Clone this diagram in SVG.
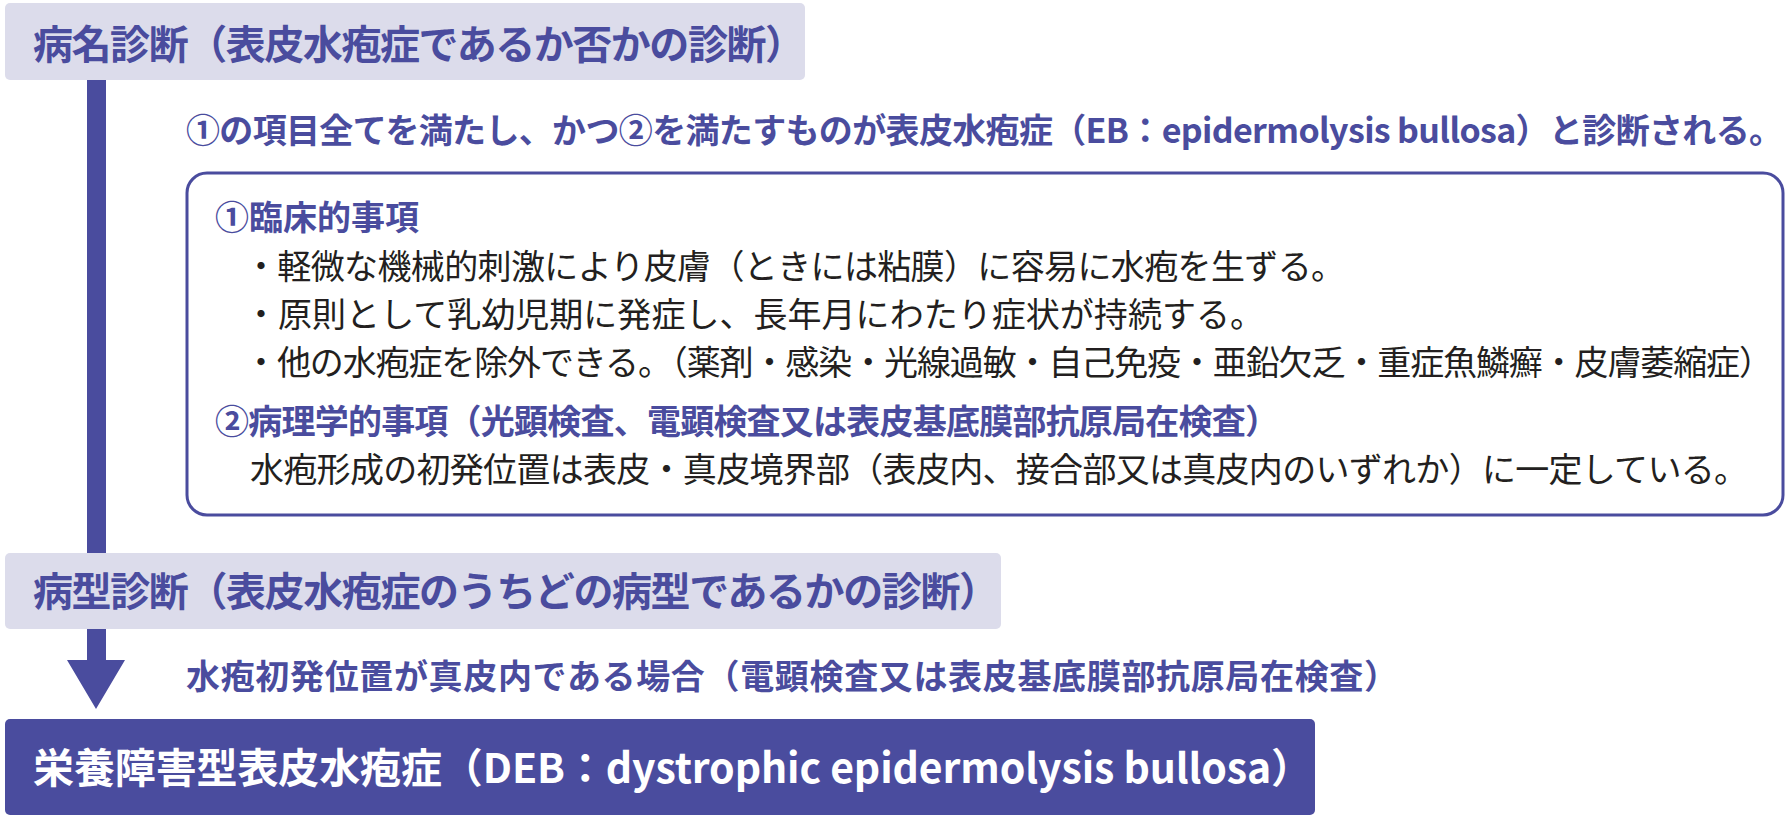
<svg xmlns="http://www.w3.org/2000/svg" width="1790" height="820" viewBox="0 0 1790 820">
<style>
text{font-family:"Noto Sans CJK JP","Noto Sans",sans-serif;}
.hd{fill:#dcdceb;}
.bl{fill:#4a4c9e;}
.ht{font-size:40px;font-weight:700;fill:#4a4c9e;}
.bt{font-size:34px;font-weight:700;fill:#4a4c9e;}
.nt{font-size:34px;font-weight:400;fill:#231f20;}
.wt{font-size:41px;font-weight:700;fill:#ffffff;}
.frame{fill:#ffffff;stroke:#4a4c9e;stroke-width:3;}
</style>
<rect width="1790" height="820" fill="#ffffff"/>
<g id="connectors">
  <rect class="bl" x="87" y="79" width="19" height="476"/>
  <path class="bl" d="M87 628 H106 V660 H125 L96 709 L67 660 H87 Z"/>
</g>
<g id="node-diagnosis">
  <rect class="hd" x="5" y="3" width="800" height="77" rx="5"/>
  <text class="ht" x="33" y="59" textLength="772" lengthAdjust="spacing">病名診断（表皮水疱症であるか否かの診断）</text>
</g>
<g id="note-criteria">
  <text class="bt" x="186" y="143" textLength="1597" lengthAdjust="spacing">①の項目全てを満たし、かつ②を満たすものが表皮水疱症（EB：epidermolysis bullosa）と診断される。</text>
</g>
<g id="node-criteria">
  <rect class="frame" x="187" y="173" width="1596" height="342" rx="20"/>
  <text class="bt" x="215" y="230">①臨床的事項</text>
  <text class="nt" x="244" y="279" textLength="1101" lengthAdjust="spacing">・軽微な機械的刺激により皮膚（ときには粘膜）に容易に水疱を生ずる。</text>
  <text class="nt" x="244" y="327" textLength="1020" lengthAdjust="spacing">・原則として乳幼児期に発症し、長年月にわたり症状が持続する。</text>
  <text class="nt" x="244" y="375" textLength="1529" lengthAdjust="spacing">・他の水疱症を除外できる。（薬剤・感染・光線過敏・自己免疫・亜鉛欠乏・重症魚鱗癬・皮膚萎縮症）</text>
  <text class="bt" x="215" y="434" textLength="1064" lengthAdjust="spacing">②病理学的事項（光顕検査、電顕検査又は表皮基底膜部抗原局在検査）</text>
  <text class="nt" x="250" y="482" textLength="1498" lengthAdjust="spacing">水疱形成の初発位置は表皮・真皮境界部（表皮内、接合部又は真皮内のいずれか）に一定している。</text>
</g>
<g id="node-type">
  <rect class="hd" x="5" y="553" width="996" height="76" rx="5"/>
  <text class="ht" x="33" y="606" textLength="966" lengthAdjust="spacing">病型診断（表皮水疱症のうちどの病型であるかの診断）</text>
</g>
<g id="label-condition">
  <text class="bt" x="186" y="689" textLength="1212" lengthAdjust="spacing">水疱初発位置が真皮内である場合（電顕検査又は表皮基底膜部抗原局在検査）</text>
</g>
<g id="node-deb">
  <rect class="bl" x="5" y="719" width="1310" height="96" rx="5"/>
  <text class="wt" x="33" y="783" textLength="1279" lengthAdjust="spacing">栄養障害型表皮水疱症（DEB：dystrophic epidermolysis bullosa）</text>
</g>
</svg>
